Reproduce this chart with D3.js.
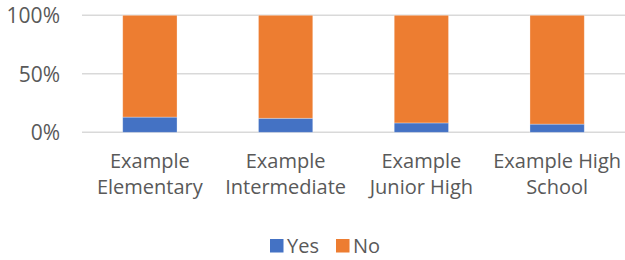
<!DOCTYPE html>
<html><head><meta charset="utf-8">
<script src="https://cdn.jsdelivr.net/npm/d3@7"></script>
<style>body{margin:0;background:#fff}svg{display:block}</style>
</head><body>
<svg id="c" width="625" height="260"></svg>
<script>
const categories = [["Example","Elementary"],["Example","Intermediate"],["Example","Junior High"],["Example High","School"]];
const yesValues = [13, 12, 8, 7];
const noValues = [87, 88, 92, 93];
const seriesNames = ["Yes","No"];
const seriesColors = ["#4472C4","#ED7D31"];
const yTicks = [0, 0.5, 1];

(function(){
const svg = d3.select("#c");
const font = "'Open Sans', sans-serif";
const fs = "20px";
const mLeft = 82, mRight = 625, mTop = 15.3, mBottom = 132.3;
const x = d3.scaleBand().domain(d3.range(categories.length)).range([mLeft, mRight]).paddingInner(0.6).paddingOuter(0.3);
const y = d3.scaleLinear().domain([0,1]).range([mBottom, mTop]);

const data = categories.map((c,i)=>({i, Yes: yesValues[i], No: noValues[i]}));
const stack = d3.stack().keys(seriesNames).offset(d3.stackOffsetExpand)(data);

svg.append("g").selectAll("line").data(yTicks).join("line")
  .attr("x1", mLeft).attr("x2", mRight)
  .attr("y1", d=>y(d)).attr("y2", d=>y(d))
  .attr("stroke", "#d9d9d9").attr("stroke-width", 1.5);

const yAxis = d3.axisLeft(y).tickValues(yTicks).tickFormat(d3.format(".0%")).tickSize(0).tickPadding(0);
const ya = svg.append("g").attr("transform", `translate(60,0)`).call(yAxis);
ya.select(".domain").remove();
ya.selectAll("text").attr("fill","#595959").style("font-family",font).style("font-size","21px").attr("dy","0.35em");

svg.append("g").selectAll("g").data(stack).join("g")
  .attr("fill",(d,i)=>seriesColors[i])
  .selectAll("rect").data(d=>d).join("rect")
  .attr("x", d=>x(d.data.i)).attr("width", x.bandwidth())
  .attr("y", d=>y(d[1])).attr("height", d=>y(d[0])-y(d[1]))
  .attr("stroke","#fff").attr("stroke-opacity",0.4).attr("stroke-width",0.75);

const xl = svg.append("g");
categories.forEach((lines,i)=>{
  const t = xl.append("text").attr("text-anchor","middle")
    .attr("fill","#595959").style("font-family",font).style("font-size",fs);
  lines.forEach((ln,j)=>{
    t.append("tspan").attr("x", x(i)+x.bandwidth()/2).attr("y", 167.5 + j*26).text(ln);
  });
});

const legend = svg.append("g");
const lx = [270, 336];
seriesNames.forEach((n,i)=>{
  legend.append("rect").attr("x", lx[i]).attr("y", 239).attr("width", 13.5).attr("height", 13.5).attr("fill", seriesColors[i]);
  legend.append("text").attr("x", lx[i]+17).attr("y", 252.5).text(n)
    .attr("fill","#595959").style("font-family",font).style("font-size",fs);
});
})();
</script>
</body></html>
